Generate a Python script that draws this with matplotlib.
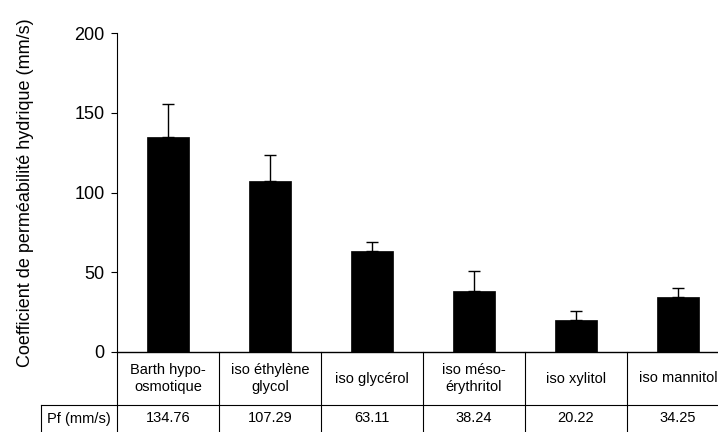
import matplotlib
matplotlib.use("Agg")
import matplotlib.pyplot as plt
import numpy as np

plt.rcParams['font.family'] = ['Liberation Sans', 'DejaVu Sans']

# donnees
categories = ['Barth hypo-\nosmotique', 'iso éthylène\nglycol', 'iso glycérol',
              'iso méso-\nérythritol', 'iso xylitol', 'iso mannitol']
pf = [134.76, 107.29, 63.11, 38.24, 20.22, 34.25]
erreurs = [20.7, 16.4, 6.0, 12.7, 5.3, 5.9]
pf_texte = ['134.76', '107.29', '63.11', '38.24', '20.22', '34.25']
ligne_label = 'Pf (mm/s)'

W, H = 718, 432
fig = plt.figure(figsize=(W / 100, H / 100), dpi=100)
# axe en pixels : gauche 117, bas 352, largeur 612 (coupe a droite), hauteur 319
ax = fig.add_axes([117 / W, (H - 352) / H, 612 / W, 319 / H])

x = np.arange(len(pf))
ax.bar(x, pf, width=0.41, color='black', edgecolor='black', linewidth=0.5, zorder=2)
ax.errorbar(x, pf, yerr=[np.zeros(len(pf)), erreurs], fmt='none',
            ecolor='black', elinewidth=1.0, capsize=4, capthick=1.0, zorder=3)

ax.set_xlim(-0.5, len(pf) - 0.5)
ax.set_ylim(0, 200)
ax.set_yticks([0, 50, 100, 150, 200])
ax.set_xticks([])
ax.tick_params(axis='y', direction='out', length=4, width=0.8, pad=5, labelsize=13)
ax.set_ylabel('Coefficient de perméabilité hydrique (mm/s)', fontsize=13, labelpad=29)
for s in ['top', 'right']:
    ax.spines[s].set_visible(False)
ax.spines['left'].set_linewidth(0.8)
ax.spines['bottom'].set_linewidth(1.0)

# tableau sous le graphique (x en donnees, y en fraction de l'axe)
tr = ax.get_xaxis_transform()
h_axe = 319.0
y1 = -53 / h_axe      # bas de la ligne des categories
y2 = -90 / h_axe      # bas de la ligne Pf (hors figure)
x_lab = -0.5 - 76 / 102.0
kw = dict(color='black', lw=0.8, transform=tr, clip_on=False)
n = len(pf)
# lignes horizontales
ax.plot([x_lab, n - 0.5], [y1, y1], **kw)
# lignes verticales
for k in range(n + 1):
    ax.plot([k - 0.5, k - 0.5], [0, y2], **kw)
ax.plot([x_lab, x_lab], [y1, y2], **kw)

for i in range(n):
    ax.text(i, y1 / 2, categories[i], ha='center', va='center', fontsize=10.5,
            transform=tr, clip_on=False, linespacing=1.25)
    ax.text(i, y1 - 13.5 / h_axe, pf_texte[i], ha='center', va='center',
            fontsize=10.5, transform=tr, clip_on=False)
ax.text((x_lab - 0.5) / 2, y1 - 13.5 / h_axe, ligne_label, ha='center', va='center',
        fontsize=10.5, transform=tr, clip_on=False)

fig.savefig('out.png', dpi=100)
